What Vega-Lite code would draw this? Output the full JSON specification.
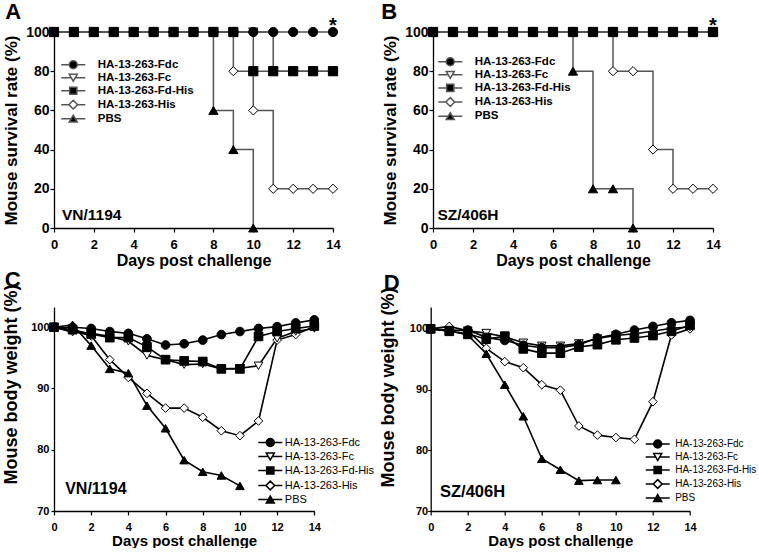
{
  "$schema": "https://vega.github.io/schema/vega-lite/v6.json",
  "background": "white",
  "padding": {"left": 2, "top": 1, "right": 0, "bottom": 0},
  "datasets": {
    "survA": [
      {"g":"His","d":0,"v":100},{"g":"His","d":1,"v":100},{"g":"His","d":2,"v":100},{"g":"His","d":3,"v":100},{"g":"His","d":4,"v":100},{"g":"His","d":5,"v":100},{"g":"His","d":6,"v":100},{"g":"His","d":7,"v":100},{"g":"His","d":8,"v":100},{"g":"His","d":9,"v":80},{"g":"His","d":10,"v":60},{"g":"His","d":11,"v":20},{"g":"His","d":12,"v":20},{"g":"His","d":13,"v":20},{"g":"His","d":14,"v":20},
      {"g":"Fc","d":0,"v":100},{"g":"Fc","d":1,"v":100},{"g":"Fc","d":2,"v":100},{"g":"Fc","d":3,"v":100},{"g":"Fc","d":4,"v":100},{"g":"Fc","d":5,"v":100},{"g":"Fc","d":6,"v":100},{"g":"Fc","d":7,"v":100},{"g":"Fc","d":8,"v":100},{"g":"Fc","d":9,"v":100},{"g":"Fc","d":10,"v":100},{"g":"Fc","d":11,"v":80},{"g":"Fc","d":12,"v":80},{"g":"Fc","d":13,"v":80},{"g":"Fc","d":14,"v":80},
      {"g":"PBS","d":0,"v":100},{"g":"PBS","d":1,"v":100},{"g":"PBS","d":2,"v":100},{"g":"PBS","d":3,"v":100},{"g":"PBS","d":4,"v":100},{"g":"PBS","d":5,"v":100},{"g":"PBS","d":6,"v":100},{"g":"PBS","d":7,"v":100},{"g":"PBS","d":8,"v":60},{"g":"PBS","d":9,"v":40},{"g":"PBS","d":10,"v":0},
      {"g":"Fd-His","d":0,"v":100},{"g":"Fd-His","d":1,"v":100},{"g":"Fd-His","d":2,"v":100},{"g":"Fd-His","d":3,"v":100},{"g":"Fd-His","d":4,"v":100},{"g":"Fd-His","d":5,"v":100},{"g":"Fd-His","d":6,"v":100},{"g":"Fd-His","d":7,"v":100},{"g":"Fd-His","d":8,"v":100},{"g":"Fd-His","d":9,"v":100},{"g":"Fd-His","d":10,"v":80},{"g":"Fd-His","d":11,"v":80},{"g":"Fd-His","d":12,"v":80},{"g":"Fd-His","d":13,"v":80},{"g":"Fd-His","d":14,"v":80},
      {"g":"Fdc","d":0,"v":100},{"g":"Fdc","d":1,"v":100},{"g":"Fdc","d":2,"v":100},{"g":"Fdc","d":3,"v":100},{"g":"Fdc","d":4,"v":100},{"g":"Fdc","d":5,"v":100},{"g":"Fdc","d":6,"v":100},{"g":"Fdc","d":7,"v":100},{"g":"Fdc","d":8,"v":100},{"g":"Fdc","d":9,"v":100},{"g":"Fdc","d":10,"v":100},{"g":"Fdc","d":11,"v":100},{"g":"Fdc","d":12,"v":100},{"g":"Fdc","d":13,"v":100},{"g":"Fdc","d":14,"v":100}
    ],
    "survB": [
      {"g":"His","d":0,"v":100},{"g":"His","d":1,"v":100},{"g":"His","d":2,"v":100},{"g":"His","d":3,"v":100},{"g":"His","d":4,"v":100},{"g":"His","d":5,"v":100},{"g":"His","d":6,"v":100},{"g":"His","d":7,"v":100},{"g":"His","d":8,"v":100},{"g":"His","d":9,"v":80},{"g":"His","d":10,"v":80},{"g":"His","d":11,"v":40},{"g":"His","d":12,"v":20},{"g":"His","d":13,"v":20},{"g":"His","d":14,"v":20},
      {"g":"Fc","d":0,"v":100},{"g":"Fc","d":1,"v":100},{"g":"Fc","d":2,"v":100},{"g":"Fc","d":3,"v":100},{"g":"Fc","d":4,"v":100},{"g":"Fc","d":5,"v":100},{"g":"Fc","d":6,"v":100},{"g":"Fc","d":7,"v":100},{"g":"Fc","d":8,"v":100},{"g":"Fc","d":9,"v":100},{"g":"Fc","d":10,"v":100},{"g":"Fc","d":11,"v":100},{"g":"Fc","d":12,"v":100},{"g":"Fc","d":13,"v":100},{"g":"Fc","d":14,"v":100},
      {"g":"PBS","d":0,"v":100},{"g":"PBS","d":1,"v":100},{"g":"PBS","d":2,"v":100},{"g":"PBS","d":3,"v":100},{"g":"PBS","d":4,"v":100},{"g":"PBS","d":5,"v":100},{"g":"PBS","d":6,"v":100},{"g":"PBS","d":7,"v":80},{"g":"PBS","d":8,"v":20},{"g":"PBS","d":9,"v":20},{"g":"PBS","d":10,"v":0},
      {"g":"Fd-His","d":0,"v":100},{"g":"Fd-His","d":1,"v":100},{"g":"Fd-His","d":2,"v":100},{"g":"Fd-His","d":3,"v":100},{"g":"Fd-His","d":4,"v":100},{"g":"Fd-His","d":5,"v":100},{"g":"Fd-His","d":6,"v":100},{"g":"Fd-His","d":7,"v":100},{"g":"Fd-His","d":8,"v":100},{"g":"Fd-His","d":9,"v":100},{"g":"Fd-His","d":10,"v":100},{"g":"Fd-His","d":11,"v":100},{"g":"Fd-His","d":12,"v":100},{"g":"Fd-His","d":13,"v":100},{"g":"Fd-His","d":14,"v":100},
      {"g":"Fdc","d":0,"v":100},{"g":"Fdc","d":1,"v":100},{"g":"Fdc","d":2,"v":100},{"g":"Fdc","d":3,"v":100},{"g":"Fdc","d":4,"v":100},{"g":"Fdc","d":5,"v":100},{"g":"Fdc","d":6,"v":100},{"g":"Fdc","d":7,"v":100},{"g":"Fdc","d":8,"v":100},{"g":"Fdc","d":9,"v":100},{"g":"Fdc","d":10,"v":100},{"g":"Fdc","d":11,"v":100},{"g":"Fdc","d":12,"v":100},{"g":"Fdc","d":13,"v":100},{"g":"Fdc","d":14,"v":100}
    ],
    "wtC": [
      {"g":"His","d":0,"v":100},{"g":"His","d":1,"v":99.4},{"g":"His","d":2,"v":98.6},{"g":"His","d":3,"v":94.7},{"g":"His","d":4,"v":91.8},{"g":"His","d":5,"v":89.2},{"g":"His","d":6,"v":86.8},{"g":"His","d":7,"v":86.8},{"g":"His","d":8,"v":85.3},{"g":"His","d":9,"v":83.1},{"g":"His","d":10,"v":82.3},{"g":"His","d":11,"v":84.7},{"g":"His","d":12,"v":97.9},{"g":"His","d":13,"v":98.8},{"g":"His","d":14,"v":100.1},
      {"g":"Fc","d":0,"v":100},{"g":"Fc","d":1,"v":99.2},{"g":"Fc","d":2,"v":99.0},{"g":"Fc","d":3,"v":98.5},{"g":"Fc","d":4,"v":97.7},{"g":"Fc","d":5,"v":95.4},{"g":"Fc","d":6,"v":94.7},{"g":"Fc","d":7,"v":93.9},{"g":"Fc","d":8,"v":94.0},{"g":"Fc","d":9,"v":93.2},{"g":"Fc","d":10,"v":93.3},{"g":"Fc","d":11,"v":93.7},{"g":"Fc","d":12,"v":98.2},{"g":"Fc","d":13,"v":99.3},{"g":"Fc","d":14,"v":99.8},
      {"g":"PBS","d":0,"v":100},{"g":"PBS","d":1,"v":100.4},{"g":"PBS","d":2,"v":97.0},{"g":"PBS","d":3,"v":93.2},{"g":"PBS","d":4,"v":92.5},{"g":"PBS","d":5,"v":87.2},{"g":"PBS","d":6,"v":83.5},{"g":"PBS","d":7,"v":78.3},{"g":"PBS","d":8,"v":76.4},{"g":"PBS","d":9,"v":75.8},{"g":"PBS","d":10,"v":74.1},
      {"g":"Fd-His","d":0,"v":100},{"g":"Fd-His","d":1,"v":99.6},{"g":"Fd-His","d":2,"v":98.9},{"g":"Fd-His","d":3,"v":98.3},{"g":"Fd-His","d":4,"v":98.3},{"g":"Fd-His","d":5,"v":96.8},{"g":"Fd-His","d":6,"v":94.7},{"g":"Fd-His","d":7,"v":94.5},{"g":"Fd-His","d":8,"v":94.4},{"g":"Fd-His","d":9,"v":93.2},{"g":"Fd-His","d":10,"v":93.2},{"g":"Fd-His","d":11,"v":98.5},{"g":"Fd-His","d":12,"v":99.3},{"g":"Fd-His","d":13,"v":99.8},{"g":"Fd-His","d":14,"v":100.2},
      {"g":"Fdc","d":0,"v":100},{"g":"Fdc","d":1,"v":100},{"g":"Fdc","d":2,"v":99.8},{"g":"Fdc","d":3,"v":99.3},{"g":"Fdc","d":4,"v":99.0},{"g":"Fdc","d":5,"v":98.1},{"g":"Fdc","d":6,"v":97.1},{"g":"Fdc","d":7,"v":97.3},{"g":"Fdc","d":8,"v":97.9},{"g":"Fdc","d":9,"v":98.8},{"g":"Fdc","d":10,"v":99.3},{"g":"Fdc","d":11,"v":99.8},{"g":"Fdc","d":12,"v":100.1},{"g":"Fdc","d":13,"v":100.7},{"g":"Fdc","d":14,"v":101.2}
    ],
    "wtD": [
      {"g":"His","d":0,"v":100},{"g":"His","d":1,"v":100.4},{"g":"His","d":2,"v":99.7},{"g":"His","d":3,"v":96.8},{"g":"His","d":4,"v":94.6},{"g":"His","d":5,"v":93.6},{"g":"His","d":6,"v":90.8},{"g":"His","d":7,"v":89.9},{"g":"His","d":8,"v":84.0},{"g":"His","d":9,"v":82.5},{"g":"His","d":10,"v":82.1},{"g":"His","d":11,"v":81.8},{"g":"His","d":12,"v":88.0},{"g":"His","d":13,"v":99.0},{"g":"His","d":14,"v":100.0},
      {"g":"Fc","d":0,"v":100},{"g":"Fc","d":1,"v":99.8},{"g":"Fc","d":2,"v":99.7},{"g":"Fc","d":3,"v":99.3},{"g":"Fc","d":4,"v":98.7},{"g":"Fc","d":5,"v":97.7},{"g":"Fc","d":6,"v":97.2},{"g":"Fc","d":7,"v":97.2},{"g":"Fc","d":8,"v":97.6},{"g":"Fc","d":9,"v":98.4},{"g":"Fc","d":10,"v":98.9},{"g":"Fc","d":11,"v":99.2},{"g":"Fc","d":12,"v":99.6},{"g":"Fc","d":13,"v":100.1},{"g":"Fc","d":14,"v":100.3},
      {"g":"PBS","d":0,"v":100},{"g":"PBS","d":1,"v":99.7},{"g":"PBS","d":2,"v":99.0},{"g":"PBS","d":3,"v":95.9},{"g":"PBS","d":4,"v":90.8},{"g":"PBS","d":5,"v":85.6},{"g":"PBS","d":6,"v":78.6},{"g":"PBS","d":7,"v":76.8},{"g":"PBS","d":8,"v":75.0},{"g":"PBS","d":9,"v":75.1},{"g":"PBS","d":10,"v":75.1},
      {"g":"Fd-His","d":0,"v":100},{"g":"Fd-His","d":1,"v":99.6},{"g":"Fd-His","d":2,"v":99.2},{"g":"Fd-His","d":3,"v":98.3},{"g":"Fd-His","d":4,"v":98.8},{"g":"Fd-His","d":5,"v":96.7},{"g":"Fd-His","d":6,"v":96.0},{"g":"Fd-His","d":7,"v":96.0},{"g":"Fd-His","d":8,"v":97.0},{"g":"Fd-His","d":9,"v":97.4},{"g":"Fd-His","d":10,"v":98.2},{"g":"Fd-His","d":11,"v":98.5},{"g":"Fd-His","d":12,"v":98.9},{"g":"Fd-His","d":13,"v":99.6},{"g":"Fd-His","d":14,"v":100.6},
      {"g":"Fdc","d":0,"v":100},{"g":"Fdc","d":1,"v":99.7},{"g":"Fdc","d":2,"v":99.8},{"g":"Fdc","d":3,"v":98.6},{"g":"Fdc","d":4,"v":98.1},{"g":"Fdc","d":5,"v":97.3},{"g":"Fdc","d":6,"v":96.9},{"g":"Fdc","d":7,"v":96.9},{"g":"Fdc","d":8,"v":97.4},{"g":"Fdc","d":9,"v":98.5},{"g":"Fdc","d":10,"v":99.1},{"g":"Fdc","d":11,"v":99.8},{"g":"Fdc","d":12,"v":100.4},{"g":"Fdc","d":13,"v":101.0},{"g":"Fdc","d":14,"v":101.4}
    ]
  },
  "spacing": 1,
  "bounds": "full",
  "resolve": {"scale": {"shape": "independent", "fill": "independent"}, "legend": {"shape": "independent", "fill": "independent"}},
  "vconcat": [
    {
      "hconcat": [
        {
          "width": 279, "height": 196,
          "title": {"text": "A", "offset": -8, "dx": 3},
          "resolve": {"scale": {"shape": "independent", "fill": "independent"}, "legend": {"shape": "independent", "fill": "independent"}},
          "encoding": {
            "x": {"field": "d", "type": "quantitative", "scale": {"domain": [0, 14], "nice": false},
                  "axis": {"title": "Days post challenge", "values": [0,2,4,6,8,10,12,14], "labelOverlap": false, "labelFontSize": 13, "titleFontSize": 16, "tickSize": 4, "labelPadding": 6, "titlePadding": 1}},
            "y": {"field": "v", "type": "quantitative", "scale": {"domain": [0, 100], "nice": false},
                  "axis": {"title": "Mouse survival rate (%)", "values": [0,20,40,60,80,100], "labelOverlap": false, "labelFontSize": 14, "titleFontSize": 17, "tickSize": 4, "labelPadding": 1, "titlePadding": 5.5}}
          },
          "layer": [
            {"data": {"name": "survA"}, "mark": {"type": "line", "interpolate": "step-after", "color": "#555", "strokeWidth": 1.5},
             "encoding": {"detail": {"field": "g"}}},
            {"data": {"name": "survA"}, "mark": {"type": "point", "filled": true, "stroke": "#000", "strokeWidth": 1, "size": 85, "opacity": 1},
             "encoding": {
               "shape": {"field": "g", "scale": {"domain": ["Fdc","Fc","Fd-His","His","PBS"], "range": ["circle","triangle-down","square","diamond","triangle-up"]}, "legend": null},
               "fill": {"field": "g", "scale": {"domain": ["Fdc","Fc","Fd-His","His","PBS"], "range": ["#000","#fff","#000","#fff","#000"]}, "legend": null}}},
            {"data": {"name": "survA"}, "transform": [{"filter": "datum.d < 0"}],
             "mark": {"type": "point", "filled": true, "stroke": "#555", "strokeWidth": 1.4, "size": 64, "opacity": 1},
             "encoding": {
               "shape": {"field": "g", "scale": {"domain": ["Fdc","Fc","Fd-His","His","PBS"], "range": ["M1,0A1,1,0,1,1,-1,0A1,1,0,1,1,1,0Z M-3,0L-1,0 M1,0L3,0", "M-1,-0.866L1,-0.866L0,0.866Z M-3,0L-0.5,0 M0.5,0L3,0", "M-0.9,-0.9L0.9,-0.9L0.9,0.9L-0.9,0.9Z M-3,0L-0.9,0 M0.9,0L3,0", "M0,-1.1L1.1,0L0,1.1L-1.1,0Z M-3,0L-1.1,0 M1.1,0L3,0", "M0,-0.866L1,0.866L-1,0.866Z M-3,0L-0.5,0 M0.5,0L3,0"]},
                         "legend": {"orient": "none", "legendX": 13.5, "legendY": 27, "title": null, "padding": 0, "labelFontSize": 11.5, "labelFontWeight": "bold", "labelColor": "#000", "labelOffset": 18.75, "rowPadding": -1.1, "symbolSize": 64, "labelExpr": "datum.label == 'PBS' ? 'PBS' : 'HA-13-263-' + datum.label"}},
               "fill": {"field": "g", "scale": {"domain": ["Fdc","Fc","Fd-His","His","PBS"], "range": ["#000","#fff","#000","#fff","#000"]},
                        "legend": {"orient": "none", "legendX": 13.5, "legendY": 27, "title": null, "padding": 0, "labelFontSize": 11.5, "labelFontWeight": "bold", "labelColor": "#000", "labelOffset": 18.75, "rowPadding": -1.1, "symbolSize": 64, "labelExpr": "datum.label == 'PBS' ? 'PBS' : 'HA-13-263-' + datum.label"}}}},
            {"data": {"values": [{"t": "VN/1194", "d": 0.4, "v": 4}]}, "mark": {"type": "text", "align": "left", "baseline": "alphabetic", "fontSize": 15.5, "fontWeight": "bold", "color": "#000"},
             "encoding": {"text": {"field": "t"}}},
            {"data": {"values": [{"t": "*", "d": 14, "v": 100}]}, "mark": {"type": "text", "align": "center", "baseline": "alphabetic", "fontSize": 20, "fontWeight": "bold", "color": "#000"},
             "encoding": {"text": {"field": "t"}}}
          ]
        },
        {
          "width": 280, "height": 196,
          "title": {"text": "B", "offset": -8, "dx": 0},
          "resolve": {"scale": {"shape": "independent", "fill": "independent"}, "legend": {"shape": "independent", "fill": "independent"}},
          "encoding": {
            "x": {"field": "d", "type": "quantitative", "scale": {"domain": [0, 14], "nice": false},
                  "axis": {"title": "Days post challenge", "values": [0,2,4,6,8,10,12,14], "labelOverlap": false, "labelFontSize": 13, "titleFontSize": 16, "tickSize": 4, "labelPadding": 6, "titlePadding": 1}},
            "y": {"field": "v", "type": "quantitative", "scale": {"domain": [0, 100], "nice": false},
                  "axis": {"title": "Mouse survival rate (%)", "values": [0,20,40,60,80,100], "labelOverlap": false, "labelFontSize": 14, "titleFontSize": 17, "tickSize": 4, "labelPadding": 1, "titlePadding": 5.5}}
          },
          "layer": [
            {"data": {"name": "survB"}, "mark": {"type": "line", "interpolate": "step-after", "color": "#555", "strokeWidth": 1.5},
             "encoding": {"detail": {"field": "g"}}},
            {"data": {"name": "survB"}, "mark": {"type": "point", "filled": true, "stroke": "#000", "strokeWidth": 1, "size": 85, "opacity": 1},
             "encoding": {
               "shape": {"field": "g", "scale": {"domain": ["Fdc","Fc","Fd-His","His","PBS"], "range": ["circle","triangle-down","square","diamond","triangle-up"]}, "legend": null},
               "fill": {"field": "g", "scale": {"domain": ["Fdc","Fc","Fd-His","His","PBS"], "range": ["#000","#fff","#000","#fff","#000"]}, "legend": null}}},
            {"data": {"name": "survB"}, "transform": [{"filter": "datum.d < 0"}],
             "mark": {"type": "point", "filled": true, "stroke": "#555", "strokeWidth": 1.4, "size": 64, "opacity": 1},
             "encoding": {
               "shape": {"field": "g", "scale": {"domain": ["Fdc","Fc","Fd-His","His","PBS"], "range": ["M1,0A1,1,0,1,1,-1,0A1,1,0,1,1,1,0Z M-3,0L-1,0 M1,0L3,0", "M-1,-0.866L1,-0.866L0,0.866Z M-3,0L-0.5,0 M0.5,0L3,0", "M-0.9,-0.9L0.9,-0.9L0.9,0.9L-0.9,0.9Z M-3,0L-0.9,0 M0.9,0L3,0", "M0,-1.1L1.1,0L0,1.1L-1.1,0Z M-3,0L-1.1,0 M1.1,0L3,0", "M0,-0.866L1,0.866L-1,0.866Z M-3,0L-0.5,0 M0.5,0L3,0"]},
                         "legend": {"orient": "none", "legendX": 11.5, "legendY": 24, "title": null, "padding": 0, "labelFontSize": 11.5, "labelFontWeight": "bold", "labelColor": "#000", "labelOffset": 18.75, "rowPadding": -0.9, "symbolSize": 64, "labelExpr": "datum.label == 'PBS' ? 'PBS' : 'HA-13-263-' + datum.label"}},
               "fill": {"field": "g", "scale": {"domain": ["Fdc","Fc","Fd-His","His","PBS"], "range": ["#000","#fff","#000","#fff","#000"]},
                        "legend": {"orient": "none", "legendX": 11.5, "legendY": 24, "title": null, "padding": 0, "labelFontSize": 11.5, "labelFontWeight": "bold", "labelColor": "#000", "labelOffset": 18.75, "rowPadding": -0.9, "symbolSize": 64, "labelExpr": "datum.label == 'PBS' ? 'PBS' : 'HA-13-263-' + datum.label"}}}},
            {"data": {"values": [{"t": "SZ/406H", "d": 0.22, "v": 4}]}, "mark": {"type": "text", "align": "left", "baseline": "alphabetic", "fontSize": 15.5, "fontWeight": "bold", "color": "#000"},
             "encoding": {"text": {"field": "t"}}},
            {"data": {"values": [{"t": "*", "d": 14, "v": 100}]}, "mark": {"type": "text", "align": "center", "baseline": "alphabetic", "fontSize": 20, "fontWeight": "bold", "color": "#000"},
             "encoding": {"text": {"field": "t"}}}
          ]
        }
      ],
      "spacing": 100,
      "bounds": "flush",
      "resolve": {"scale": {"shape": "independent", "fill": "independent"}, "legend": {"shape": "independent", "fill": "independent"}}
    },
    {
      "hconcat": [
        {
          "width": 260.3, "height": 204,
          "title": {"text": "C", "offset": -8, "dx": 2.5},
          "resolve": {"scale": {"shape": "independent", "fill": "independent"}, "legend": {"shape": "independent", "fill": "independent"}},
          "encoding": {
            "x": {"field": "d", "type": "quantitative", "scale": {"domain": [0, 14], "nice": false},
                  "axis": {"title": "Days post challenge", "values": [0,2,4,6,8,10,12,14], "labelOverlap": false, "labelFontSize": 11, "titleFontSize": 15, "tickSize": 4, "labelPadding": 6, "titlePadding": 1}},
            "y": {"field": "v", "type": "quantitative", "scale": {"domain": [70, 103.3], "nice": false},
                  "axis": {"title": "Mouse body weight (%)", "values": [70,80,90,100], "labelOverlap": false, "labelFontSize": 11, "titleFontSize": 18, "tickSize": 3, "labelPadding": 2, "titleX": -33.7, "titleY": 77}}
          },
          "layer": [
            {"data": {"name": "wtC"}, "mark": {"type": "line", "color": "#000", "strokeWidth": 1.6},
             "encoding": {"detail": {"field": "g"}}},
            {"data": {"name": "wtC"}, "mark": {"type": "point", "filled": true, "stroke": "#000", "strokeWidth": 1, "size": 75, "opacity": 1},
             "encoding": {
               "shape": {"field": "g", "scale": {"domain": ["Fdc","Fc","Fd-His","His","PBS"], "range": ["circle","triangle-down","square","diamond","triangle-up"]}, "legend": null},
               "fill": {"field": "g", "scale": {"domain": ["Fdc","Fc","Fd-His","His","PBS"], "range": ["#000","#fff","#000","#fff","#000"]}, "legend": null}}},
            {"data": {"name": "wtC"}, "transform": [{"filter": "datum.d < 0"}],
             "mark": {"type": "point", "filled": true, "stroke": "#000", "strokeWidth": 1.4, "size": 64, "opacity": 1},
             "encoding": {
               "shape": {"field": "g", "scale": {"domain": ["Fdc","Fc","Fd-His","His","PBS"], "range": ["M1,0A1,1,0,1,1,-1,0A1,1,0,1,1,1,0Z M-3,0L-1,0 M1,0L3,0", "M-1,-0.866L1,-0.866L0,0.866Z M-3,0L-0.5,0 M0.5,0L3,0", "M-0.9,-0.9L0.9,-0.9L0.9,0.9L-0.9,0.9Z M-3,0L-0.9,0 M0.9,0L3,0", "M0,-1.1L1.1,0L0,1.1L-1.1,0Z M-3,0L-1.1,0 M1.1,0L3,0", "M0,-0.866L1,0.866L-1,0.866Z M-3,0L-0.5,0 M0.5,0L3,0"]},
                         "legend": {"orient": "none", "legendX": 210.8, "legendY": 130, "title": null, "padding": 0, "labelFontSize": 11, "labelFontWeight": "normal", "labelColor": "#000", "labelOffset": 9, "rowPadding": 0, "symbolSize": 64, "labelExpr": "datum.label == 'PBS' ? 'PBS' : 'HA-13-263-' + datum.label"}},
               "fill": {"field": "g", "scale": {"domain": ["Fdc","Fc","Fd-His","His","PBS"], "range": ["#000","#fff","#000","#fff","#000"]},
                        "legend": {"orient": "none", "legendX": 210.8, "legendY": 130, "title": null, "padding": 0, "labelFontSize": 11, "labelFontWeight": "normal", "labelColor": "#000", "labelOffset": 9, "rowPadding": 0, "symbolSize": 64, "labelExpr": "datum.label == 'PBS' ? 'PBS' : 'HA-13-263-' + datum.label"}}}},
            {"data": {"values": [{"t": "VN/1194", "d": 0.6, "v": 72.8}]}, "mark": {"type": "text", "align": "left", "baseline": "alphabetic", "fontSize": 16, "fontWeight": "bold", "color": "#000"},
             "encoding": {"text": {"field": "t"}}}
          ]
        },
        {
          "width": 259.3, "height": 204,
          "title": {"text": "D", "offset": -8, "dx": 4},
          "resolve": {"scale": {"shape": "independent", "fill": "independent"}, "legend": {"shape": "independent", "fill": "independent"}},
          "encoding": {
            "x": {"field": "d", "type": "quantitative", "scale": {"domain": [0, 14], "nice": false},
                  "axis": {"title": "Days post challenge", "values": [0,2,4,6,8,10,12,14], "labelOverlap": false, "labelFontSize": 11, "titleFontSize": 15, "tickSize": 4, "labelPadding": 6, "titlePadding": 1}},
            "y": {"field": "v", "type": "quantitative", "scale": {"domain": [70, 103.6], "nice": false},
                  "axis": {"title": "Mouse body weight (%)", "values": [70,80,90,100], "labelOverlap": false, "labelFontSize": 11, "titleFontSize": 18, "tickSize": 3, "labelPadding": 0, "titleX": -33, "titleY": 80}}
          },
          "layer": [
            {"data": {"name": "wtD"}, "mark": {"type": "line", "color": "#000", "strokeWidth": 1.6},
             "encoding": {"detail": {"field": "g"}}},
            {"data": {"name": "wtD"}, "mark": {"type": "point", "filled": true, "stroke": "#000", "strokeWidth": 1, "size": 75, "opacity": 1},
             "encoding": {
               "shape": {"field": "g", "scale": {"domain": ["Fdc","Fc","Fd-His","His","PBS"], "range": ["circle","triangle-down","square","diamond","triangle-up"]}, "legend": null},
               "fill": {"field": "g", "scale": {"domain": ["Fdc","Fc","Fd-His","His","PBS"], "range": ["#000","#fff","#000","#fff","#000"]}, "legend": null}}},
            {"data": {"name": "wtD"}, "transform": [{"filter": "datum.d < 0"}],
             "mark": {"type": "point", "filled": true, "stroke": "#000", "strokeWidth": 1.4, "size": 64, "opacity": 1},
             "encoding": {
               "shape": {"field": "g", "scale": {"domain": ["Fdc","Fc","Fd-His","His","PBS"], "range": ["M1,0A1,1,0,1,1,-1,0A1,1,0,1,1,1,0Z M-3,0L-1,0 M1,0L3,0", "M-1,-0.866L1,-0.866L0,0.866Z M-3,0L-0.5,0 M0.5,0L3,0", "M-0.9,-0.9L0.9,-0.9L0.9,0.9L-0.9,0.9Z M-3,0L-0.9,0 M0.9,0L3,0", "M0,-1.1L1.1,0L0,1.1L-1.1,0Z M-3,0L-1.1,0 M1.1,0L3,0", "M0,-0.866L1,0.866L-1,0.866Z M-3,0L-0.5,0 M0.5,0L3,0"]},
                         "legend": {"orient": "none", "legendX": 222, "legendY": 132, "title": null, "padding": 0, "labelFontSize": 10, "labelFontWeight": "normal", "labelColor": "#000", "labelOffset": 12.5, "rowPadding": -1, "symbolSize": 64, "labelExpr": "datum.label == 'PBS' ? 'PBS' : 'HA-13-263-' + datum.label"}},
               "fill": {"field": "g", "scale": {"domain": ["Fdc","Fc","Fd-His","His","PBS"], "range": ["#000","#fff","#000","#fff","#000"]},
                        "legend": {"orient": "none", "legendX": 222, "legendY": 132, "title": null, "padding": 0, "labelFontSize": 10, "labelFontWeight": "normal", "labelColor": "#000", "labelOffset": 12.5, "rowPadding": -1, "symbolSize": 64, "labelExpr": "datum.label == 'PBS' ? 'PBS' : 'HA-13-263-' + datum.label"}}}},
            {"data": {"values": [{"t": "SZ/406H", "d": 0.5, "v": 72.3}]}, "mark": {"type": "text", "align": "left", "baseline": "alphabetic", "fontSize": 16.5, "fontWeight": "bold", "color": "#000"},
             "encoding": {"text": {"field": "t"}}}
          ]
        }
      ],
      "spacing": 115.7,
      "bounds": "flush",
      "resolve": {"scale": {"shape": "independent", "fill": "independent"}, "legend": {"shape": "independent", "fill": "independent"}}
    }
  ],
  "config": {
    "view": {"stroke": null},
    "font": "Liberation Sans",
    "axis": {"grid": false, "domainColor": "#000", "domainWidth": 1.3, "tickColor": "#000", "tickWidth": 1.2, "labelColor": "#000", "titleColor": "#000", "labelFontWeight": "bold", "titleFontWeight": "bold", "labelFont": "Liberation Sans", "titleFont": "Liberation Sans", "labelOverlap": false, "labelFlush": false},
    "title": {"fontSize": 22, "fontWeight": "bold", "color": "#000", "anchor": "start", "frame": "bounds", "font": "Liberation Sans"},
    "legend": {"labelFont": "Liberation Sans"}
  }
}
